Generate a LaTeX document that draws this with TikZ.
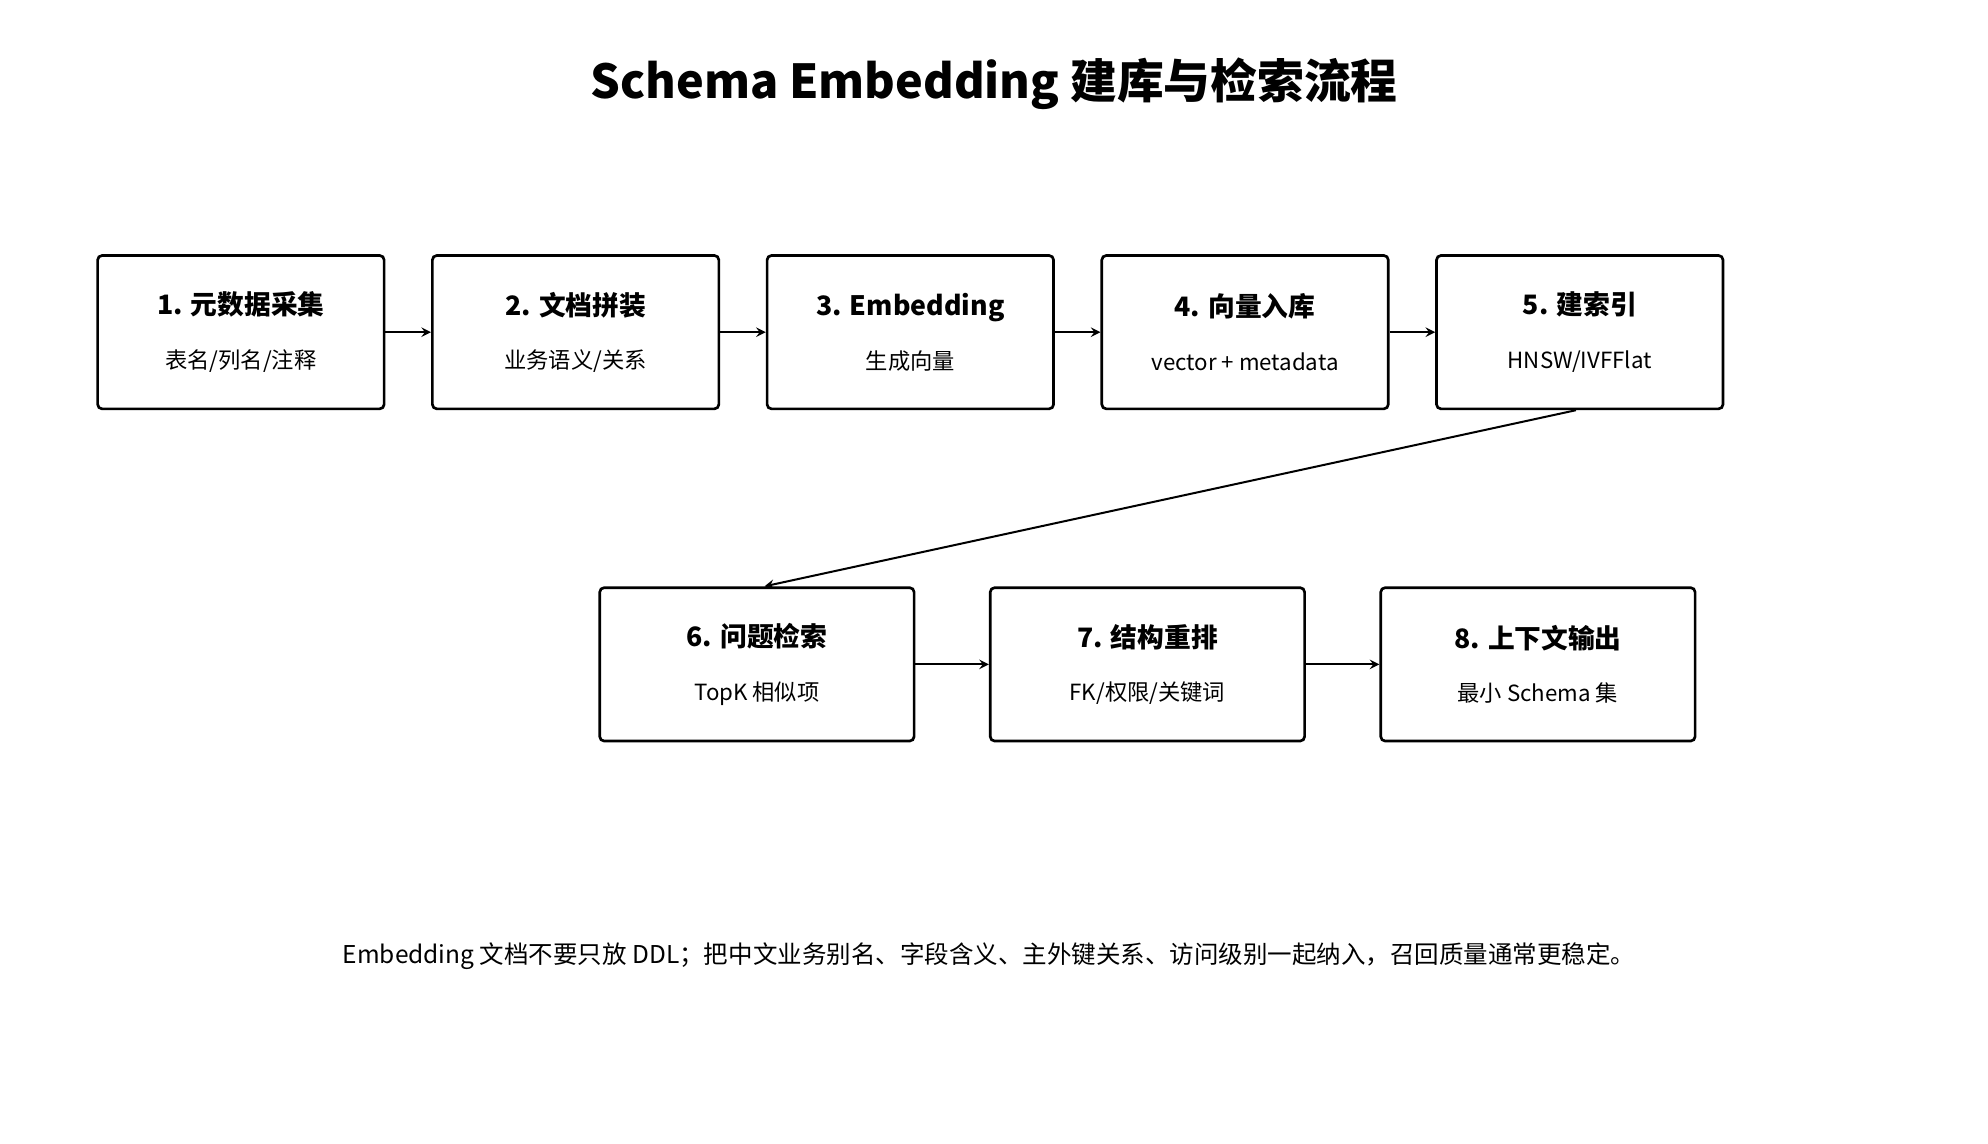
\documentclass[tikz,border=0pt]{standalone}
\usepackage{fontspec}
\setmainfont{Noto Sans CJK SC}
\usetikzlibrary{positioning}
\tikzset{
  stage/.style={draw,line width=1.2pt,rounded corners=2pt,minimum width=4.52cm,minimum height=2.42cm,align=center,font=\fontsize{10}{20}\selectfont},
  flow/.style={->,line width=0.9pt,>=stealth}
}
\newcommand{\steptext}[2]{{\bfseries\fontsize{12}{14}\selectfont #1}\\[4pt]#2}
\begin{document}
\begin{tikzpicture}[x=0.02cm,y=-0.02cm]
\useasboundingbox (0,0) rectangle (1568,902);
% title
\node[font=\bfseries\fontsize{21}{24}\selectfont] (title) at (784,66) {Schema Embedding 建库与检索流程};
% row 1
\node[stage] (s1) at (190,262) {\steptext{1. 元数据采集}{表名/列名/注释}};
\node[stage] (s2) at (454,262) {\steptext{2. 文档拼装}{业务语义/关系}};
\node[stage] (s3) at (718,262) {\steptext{3. Embedding}{生成向量}};
\node[stage] (s4) at (982,262) {\steptext{4. 向量入库}{vector + metadata}};
\node[stage] (s5) at (1246,262) {\steptext{5. 建索引}{HNSW/IVFFlat}};
% row 2
\node[stage,minimum width=4.96cm] (s6) at (597,524) {\steptext{6. 问题检索}{TopK 相似项}};
\node[stage,minimum width=4.96cm] (s7) at (905,524) {\steptext{7. 结构重排}{FK/权限/关键词}};
\node[stage,minimum width=4.96cm] (s8) at (1213,524) {\steptext{8. 上下文输出}{最小 Schema 集}};
% connectors
\draw[flow] (s1) -- (s2);
\draw[flow] (s2) -- (s3);
\draw[flow] (s3) -- (s4);
\draw[flow] (s4) -- (s5);
\draw[flow] ([xshift=-0.06cm]s5.south) -- ([xshift=0.12cm]s6.north);
\draw[flow] (s6) -- (s7);
\draw[flow] (s7) -- (s8);
% note
\node[font=\fontsize{11}{13}\selectfont] (note) at (780,754) {Embedding 文档不要只放 DDL；把中文业务别名、字段含义、主外键关系、访问级别一起纳入，召回质量通常更稳定。};
\end{tikzpicture}
\end{document}
